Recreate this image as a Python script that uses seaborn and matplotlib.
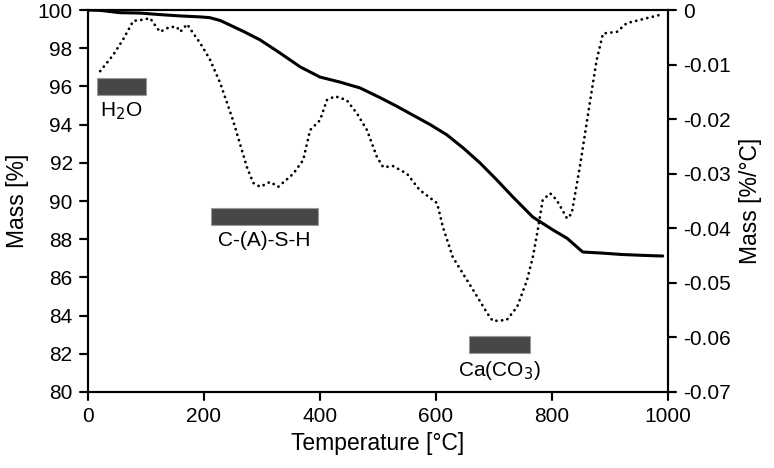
import matplotlib
matplotlib.use("Agg")
import matplotlib.pyplot as plt
from matplotlib.lines import Line2D
import numpy as np
import pandas as pd
import seaborn as sns

# --- Data ---
# TG curve: mass (left axis)
tg_temp = [0, 21, 55, 90, 124, 159, 193, 210, 228, 245, 270, 297, 331, 366, 400,
           434, 469, 503, 530, 560, 590, 619, 648, 676, 705, 733, 767, 802, 826,
           853, 870, 883, 920, 960, 991]
tg_mass = [100.0, 99.98, 99.86, 99.84, 99.76, 99.69, 99.64, 99.6, 99.45, 99.21,
           98.85, 98.43, 97.75, 97.02, 96.49, 96.23, 95.92, 95.42, 95.0, 94.5,
           94.0, 93.46, 92.75, 91.99, 91.1, 90.2, 89.16, 88.48, 88.05, 87.33,
           87.3, 87.28, 87.2, 87.15, 87.12]

# DTG curve: mass loss rate (right axis)
dtg_temp = [21, 43, 60, 78, 93, 107, 124, 141, 153, 159, 171, 181, 193, 210, 228,
            250, 274, 285, 297, 314, 328, 354, 371, 383, 400, 412, 426, 446, 464,
            481, 498, 509, 526, 550, 572, 602, 612, 629, 664, 688, 698, 722, 740,
            757, 767, 776, 784, 797, 808, 826, 834, 848, 866, 877, 888, 912, 929,
            952, 986]
dtg_rate = [-0.0112, -0.0083, -0.0055, -0.0020, -0.0018, -0.0015, -0.0040, -0.0031,
            -0.0031, -0.0040, -0.0026, -0.0042, -0.0060, -0.0090, -0.0134, -0.0202,
            -0.0288, -0.0317, -0.0324, -0.0315, -0.0324, -0.0300, -0.0275, -0.0220,
            -0.0202, -0.0165, -0.0158, -0.0165, -0.0190, -0.0220, -0.0269, -0.0288,
            -0.0286, -0.0300, -0.0330, -0.0354, -0.0398, -0.0453, -0.0513, -0.0555,
            -0.0570, -0.0568, -0.0544, -0.0495, -0.0453, -0.0400, -0.0348, -0.0336,
            -0.0348, -0.0382, -0.0373, -0.0288, -0.0165, -0.0092, -0.0043, -0.0040,
            -0.0024, -0.0018, -0.0009]

# Decomposition ranges shown as bars
band_labels = ["H$_2$O", "C-(A)-S-H", "Ca(CO$_3$)"]
band_start = [15, 212, 657]
band_end = [100, 397, 762]
band_level = [96.0, 89.2, 82.5]

# Axis ticks
x_ticks = [0, 200, 400, 600, 800, 1000]
mass_ticks = [80, 82, 84, 86, 88, 90, 92, 94, 96, 98, 100]
rate_ticks = [-0.07, -0.06, -0.05, -0.04, -0.03, -0.02, -0.01, 0]
rate_labels = ["-0.07", "-0.06", "-0.05", "-0.04", "-0.03", "-0.02", "-0.01", "0"]

tg = pd.DataFrame({"temp": tg_temp, "mass": tg_mass})
dtg = pd.DataFrame({"temp": dtg_temp, "rate": dtg_rate})

sns.set_style("ticks")
plt.rcParams.update({
    "font.family": ["Liberation Sans", "DejaVu Sans"],
    "text.color": "black",
    "axes.labelcolor": "black",
    "axes.edgecolor": "black",
    "axes.linewidth": 1.5,
    "xtick.color": "black",
    "ytick.color": "black",
    "xtick.direction": "out",
    "ytick.direction": "out",
    "xtick.major.size": 6,
    "ytick.major.size": 6,
    "xtick.major.width": 1.5,
    "ytick.major.width": 1.5,
    "xtick.major.pad": 5,
    "ytick.major.pad": 5,
    "xtick.labelsize": 15,
    "ytick.labelsize": 15,
    "xtick.top": False,
})

fig = plt.figure(figsize=(7.74, 4.68), dpi=100)
ax = fig.add_axes([0.1137, 0.1624, 0.7493, 0.8162])
ax2 = ax.twinx()

sns.lineplot(data=tg, x="temp", y="mass", ax=ax, color="black", linewidth=2.2)
sns.lineplot(data=dtg, x="temp", y="rate", ax=ax2, color="black", linewidth=2.0,
             linestyle=(0, (0.05, 2.0)), dash_capstyle="round")

# bars marking the temperature ranges
bar_h = 0.9
for lab, x0, x1, yc in zip(band_labels, band_start, band_end, band_level):
    ax.bar(x0, bar_h, width=x1 - x0, bottom=yc - bar_h / 2, align="edge",
           color="#474747", edgecolor="#9a9a9a", linewidth=0.8, zorder=3)
    ax.text((x0 + x1) / 2, yc - bar_h / 2 - 0.3, lab, ha="center", va="top",
            fontsize=15)

ax.set_xlim(0, 1000)
ax.set_ylim(80, 100)
ax.set_xticks(x_ticks)
ax.set_yticks(mass_ticks)
ax2.set_ylim(-0.07, 0)
ax2.set_yticks(rate_ticks)
ax2.set_yticklabels(rate_labels)

# tick marks as figure-level lines, placed at the tick positions
fig.canvas.draw()
to_fig = fig.transFigure.inverted()
tlen = 8  # pixels
for xv in x_ticks:
    px, py = ax.transData.transform((xv, 80))
    (fx0, fy0), (fx1, fy1) = to_fig.transform([(px, py), (px, py - tlen)])
    fig.add_artist(Line2D([fx0, fx1], [fy0, fy1], color="black", linewidth=1.5))
for yv in mass_ticks:
    px, py = ax.transData.transform((0, yv))
    (fx0, fy0), (fx1, fy1) = to_fig.transform([(px, py), (px - tlen, py)])
    fig.add_artist(Line2D([fx0, fx1], [fy0, fy1], color="black", linewidth=1.5))
for yv in rate_ticks:
    px, py = ax2.transData.transform((1000, yv))
    (fx0, fy0), (fx1, fy1) = to_fig.transform([(px, py), (px + tlen, py)])
    fig.add_artist(Line2D([fx0, fx1], [fy0, fy1], color="black", linewidth=1.5))

ax.set_xlabel("Temperature [°C]", fontsize=16.5, labelpad=4)
ax.set_ylabel("Mass [%]", fontsize=16.5, labelpad=6)
ax2.set_ylabel("Mass [%/°C]", fontsize=16.5, labelpad=6)

fig.savefig("out.png", dpi=100)
